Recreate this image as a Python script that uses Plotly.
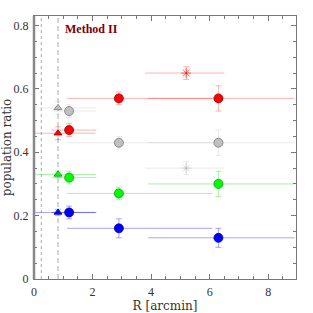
import plotly.graph_objects as go

# ---- data ----
tri_x = [0.82]
circ_x = [1.2, 2.9, 6.3]
ast_x = [5.2]

tri_lo, tri_hi = [0.0], [2.1]
circ_lo = [0.6, 1.13, 3.9]
circ_hi = [2.13, 6.09, 8.9]
ast_lo, ast_hi = [3.8], [6.5]

red_tri, red_tri_err = [0.46], [0.02]
red_circ, red_circ_err = [0.47, 0.57, 0.57], [0.02, 0.02, 0.04]
red_ast, red_ast_err = [0.65], [0.02]

gray_tri, gray_tri_err = [0.54], [0.02]
gray_circ, gray_circ_err = [0.53, 0.43, 0.43], [0.02, 0.02, 0.04]
gray_ast, gray_ast_err = [0.35], [0.02]

green_tri, green_tri_err = [0.33], [0.01]
green_circ, green_circ_err = [0.32, 0.27, 0.30], [0.02, 0.02, 0.04]

blue_tri, blue_tri_err = [0.21], [0.01]
blue_circ, blue_circ_err = [0.21, 0.16, 0.13], [0.02, 0.03, 0.03]

x_ticks = [0, 2, 4, 6, 8]
y_ticks = [0, 0.2, 0.4, 0.6, 0.8]
y_labels = ["0", "0.2", "0.4", "0.6", "0.8"]

dotted_x = 0.25
dashed_x = 0.82

fig = go.Figure()

def add(xs, ys, errs, lo, hi, fill, edge, light, symbol, size):
    fig.add_trace(go.Scatter(
        x=xs, y=ys, mode="markers",
        marker=dict(symbol=symbol, size=size, color=fill,
                    line=dict(color=edge, width=0.8)),
        error_y=dict(type="data", array=errs, visible=True, color=light,
                     thickness=1, width=3),
        error_x=dict(type="data", symmetric=False,
                     array=[h - x for h, x in zip(hi, xs)],
                     arrayminus=[x - l for l, x in zip(lo, xs)],
                     visible=True, color=light, thickness=1, width=0),
        showlegend=False, hoverinfo="skip"))

def add_ast(xs, ys, errs, lo, hi, col, light):
    fig.add_trace(go.Scatter(
        x=xs, y=ys, mode="markers",
        marker=dict(symbol="asterisk", size=8, color=col,
                    line=dict(color=col, width=1)),
        error_y=dict(type="data", array=errs, visible=True, color=light,
                     thickness=1, width=3),
        error_x=dict(type="data", symmetric=False,
                     array=[h - x for h, x in zip(hi, xs)],
                     arrayminus=[x - l for l, x in zip(lo, xs)],
                     visible=True, color=light, thickness=1, width=0),
        showlegend=False, hoverinfo="skip"))

RED_L = "rgba(255,0,0,0.3)"
GRAY_L = "rgba(150,150,150,0.2)"
GREEN_L = "rgba(0,220,0,0.35)"
BLUE_L = "rgba(0,0,255,0.35)"

add_ast(ast_x, gray_ast, gray_ast_err, ast_lo, ast_hi, "rgba(150,150,150,0.35)", GRAY_L)
add_ast(ast_x, red_ast, red_ast_err, ast_lo, ast_hi, "rgba(255,0,0,0.6)", RED_L)

add(tri_x, gray_tri, gray_tri_err, tri_lo, tri_hi, "#c0c0c0", "#777777", GRAY_L, "triangle-up", 7)
add(tri_x, red_tri, red_tri_err, tri_lo, tri_hi, "#ff0000", "#990000", RED_L, "triangle-up", 7)
add(tri_x, green_tri, green_tri_err, tri_lo, tri_hi, "#00ff00", "#009900", GREEN_L, "triangle-up", 7)
add(tri_x, blue_tri, blue_tri_err, tri_lo, tri_hi, "#0000ff", "#000099", BLUE_L, "triangle-up", 7)

add(circ_x, gray_circ, gray_circ_err, circ_lo, circ_hi, "#c0c0c0", "#777777", GRAY_L, "circle", 9)
add(circ_x, red_circ, red_circ_err, circ_lo, circ_hi, "#ff0000", "#990000", RED_L, "circle", 9)
add(circ_x, green_circ, green_circ_err, circ_lo, circ_hi, "#00ff00", "#009900", GREEN_L, "circle", 9)
add(circ_x, blue_circ, blue_circ_err, circ_lo, circ_hi, "#0000ff", "#000099", BLUE_L, "circle", 9)

fig.add_vline(x=dotted_x, line=dict(color="#aaaaaa", width=1, dash="dot"), layer="below")
fig.add_vline(x=dashed_x, line=dict(color="#aaaaaa", width=1, dash="5px,3px"), layer="below")

# thicker left frame
fig.add_shape(type="line", xref="paper", yref="paper", x0=0, x1=0, y0=0, y1=1,
              line=dict(color="#888888", width=2.5))

fig.add_annotation(x=1.0, y=0.79, xref="x", yref="y", text="<b>Method II</b>",
                   showarrow=False, xanchor="left", yanchor="middle",
                   font=dict(family="Liberation Serif", size=12, color="#800000"))

tickfont = dict(family="Liberation Serif", size=12, color="#333333")
titlefont = dict(family="DejaVu Serif", size=12, color="#333333")

axis_common = dict(showgrid=False, zeroline=False, showline=True, linecolor="#777777",
                   linewidth=1, mirror="ticks", ticks="inside", ticklen=5,
                   tickcolor="#777777", tickfont=tickfont, automargin=False)

fig.update_xaxes(range=[0, 8.95], tickvals=x_ticks, ticktext=[str(v) for v in x_ticks],
                 minor=dict(dtick=0.5, ticks="inside", ticklen=3, tickcolor="#777777"),
                 title=dict(text="R [arcmin]", font=titlefont, standoff=0),
                 ticklabelstandoff=2,
                 **axis_common)
fig.update_yaxes(range=[0, 0.83], tickvals=y_ticks, ticktext=y_labels,
                 minor=dict(dtick=0.05, ticks="inside", ticklen=3, tickcolor="#777777"),
                 title=dict(text="population ratio", font=titlefont, standoff=0),
                 ticklabelstandoff=2,
                 **axis_common)

fig.update_layout(width=313, height=313, margin=dict(l=34, r=17, t=16, b=34),
                  plot_bgcolor="white", paper_bgcolor="white")

fig.write_html("out.html", config={"displayModeBar": False},
               post_script="document.body.style.margin='0';document.body.style.padding='0';")
